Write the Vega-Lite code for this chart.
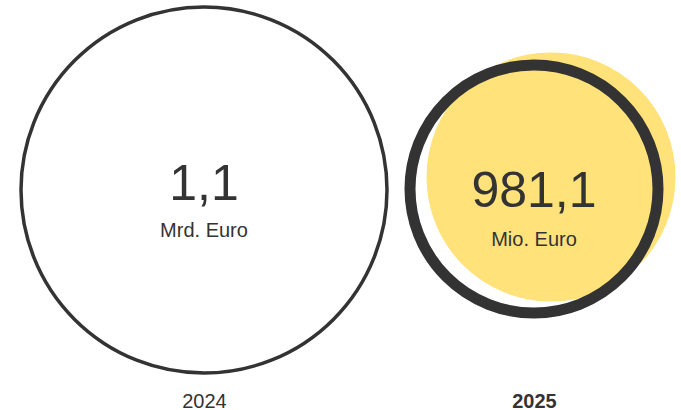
{
  "$schema": "https://vega.github.io/schema/vega-lite/v6.json",
  "width": 681,
  "height": 380,
  "autosize": {"type": "none"},
  "padding": {"left": 0, "top": 0, "right": 0, "bottom": 30},
  "background": "white",
  "config": {
    "view": {"stroke": null},
    "font": "Liberation Sans",
    "locale": {"number": {"decimal": ",", "thousands": ".", "grouping": [3], "currency": ["", " €"]}}
  },
  "data": {
    "values": [
      {"year": "2024", "amount": 1.1, "unit": "Mrd. Euro"},
      {"year": "2025", "amount": 981.1, "unit": "Mio. Euro"}
    ]
  },
  "encoding": {
    "x": {
      "field": "year",
      "type": "ordinal",
      "scale": {"type": "point", "domain": ["2024", "2025"], "range": [204, 534], "padding": 0},
      "axis": {
        "title": null,
        "domain": false,
        "ticks": false,
        "tickSize": 0,
        "grid": false,
        "labelPadding": 11,
        "labelFontSize": 20,
        "labelColor": "#333333",
        "labelFont": "Liberation Sans",
        "labelAngle": 0,
        "labelFontWeight": {"condition": {"test": "datum.value === '2025'", "value": "bold"}, "value": "normal"}
      }
    }
  },
  "layer": [
    {
      "transform": [{"filter": "datum.year === '2025'"}],
      "mark": {"type": "point", "shape": "circle", "filled": true, "color": "#FFE27A", "strokeWidth": 0, "size": 62001, "xOffset": 17, "yOffset": -13, "opacity": 1}
    },
    {
      "transform": [{"filter": "datum.year === '2024'"}],
      "mark": {"type": "point", "shape": "circle", "filled": false, "stroke": "#333333", "strokeWidth": 3.5, "size": 133956, "opacity": 1}
    },
    {
      "transform": [{"filter": "datum.year === '2025'"}],
      "mark": {"type": "point", "shape": "circle", "filled": false, "stroke": "#333333", "strokeWidth": 11, "size": 61504, "yOffset": -1, "opacity": 1}
    },
    {
      "transform": [{"filter": "datum.year === '2024'"}],
      "mark": {"type": "text", "fontSize": 50, "color": "#333333", "baseline": "alphabetic", "align": "center", "dy": 10},
      "encoding": {"text": {"field": "amount", "type": "quantitative", "format": ",.1f"}}
    },
    {
      "transform": [{"filter": "datum.year === '2024'"}],
      "mark": {"type": "text", "fontSize": 20, "color": "#333333", "baseline": "alphabetic", "align": "center", "dy": 46.5},
      "encoding": {"text": {"field": "unit", "type": "nominal"}}
    },
    {
      "transform": [{"filter": "datum.year === '2025'"}],
      "mark": {"type": "text", "fontSize": 50, "color": "#333333", "baseline": "alphabetic", "align": "center", "dy": 17},
      "encoding": {"text": {"field": "amount", "type": "quantitative", "format": ",.1f"}}
    },
    {
      "transform": [{"filter": "datum.year === '2025'"}],
      "mark": {"type": "text", "fontSize": 20, "color": "#333333", "baseline": "alphabetic", "align": "center", "dy": 56},
      "encoding": {"text": {"field": "unit", "type": "nominal"}}
    }
  ]
}
